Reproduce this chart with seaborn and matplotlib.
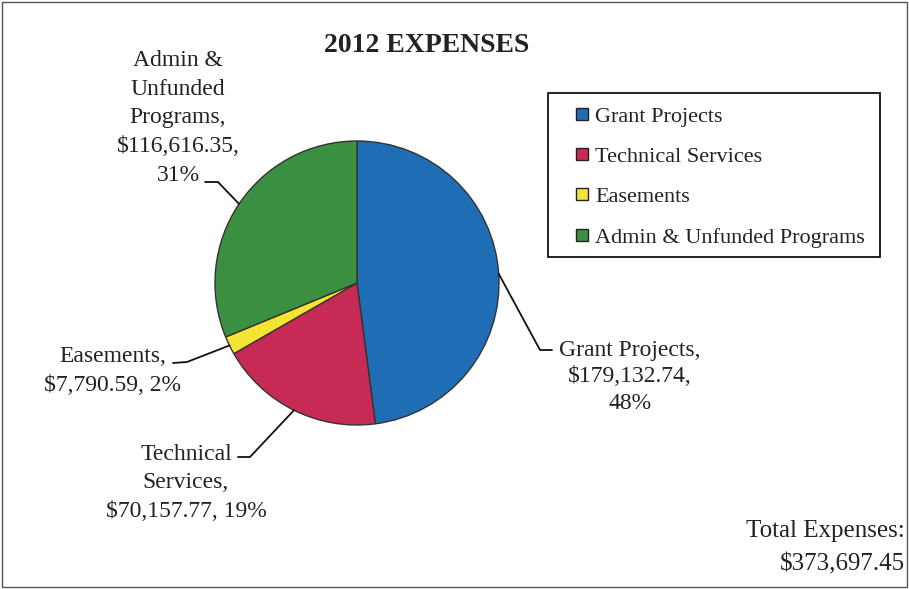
import numpy as np
import pandas as pd
import seaborn as sns
import matplotlib.pyplot as plt
from matplotlib.lines import Line2D
from matplotlib.patches import Rectangle

# Chart data
categories = ['Grant Projects', 'Technical Services', 'Easements', 'Admin & Unfunded Programs']
expenses = [179132.74, 70157.77, 7790.59, 116616.35]
colors = ['#1f6db5', '#c72a55', '#f4e433', '#3b8f40']
total_label = '$373,697.45'

df = pd.DataFrame({'category': categories, 'amount': expenses})
df['pct'] = df['amount'] / df['amount'].sum() * 100

sns.set_theme(style='white')
plt.rcParams['font.family'] = ['Liberation Serif', 'DejaVu Serif']

W, H = 909, 589
fig = plt.figure(figsize=(W / 100, H / 100), dpi=100)


def fx(px):
    return px / W


def fy(py):
    # py measured from the top of the image
    return 1 - py / H


# pie centre (357, 283), radius ~142 px
cx, cy, r = 357, 283, 142
ax = fig.add_axes([fx(cx - r), fy(cy + r), 2 * r / W, 2 * r / H])
pal = sns.color_palette(colors)
wedges, _ = ax.pie(df['amount'], colors=pal, startangle=90,
                   counterclock=False, radius=1,
                   wedgeprops=dict(edgecolor='#333333', linewidth=1.0))
ax.set_xlim(-1, 1)
ax.set_ylim(-1, 1)
ax.set_aspect('auto')
ax.axis('off')

fig.text(fx(427), fy(45), '2012 EXPENSES', ha='center', va='center',
         fontsize=20, fontweight='bold', color='#222222')


def fmt_money(v):
    return '${:,.2f}'.format(v)


lbl = {row.category: (fmt_money(row.amount), '{:.0f}%'.format(row.pct)) for row in df.itertuples()}

# data labels: text block, centre position (px), line spacing, elbow of leader line (px)
label_specs = [
    ('Grant Projects', 'Grant Projects,\n{},\n{}'.format(*lbl['Grant Projects']),
     (630, 377), 1.36, [(552, 350), (540, 350)]),
    ('Technical Services', 'Technical\nServices,\n{}, {}'.format(*lbl['Technical Services']),
     (186, 483), 1.44, [(238, 457), (250, 457)]),
    ('Easements', 'Easements,\n{}, {}'.format(*lbl['Easements']),
     (113, 371), 1.44, [(173, 363), (187, 362)]),
    ('Admin & Unfunded Programs', 'Admin &\nUnfunded\nPrograms,\n{},\n{}'.format(*lbl['Admin & Unfunded Programs']),
     (178, 118), 1.47, [(205, 182), (218, 182)]),
]

to_fig = ax.transData + fig.transFigure.inverted()
for i, (cat, text, (tx, ty), ls, elbow) in enumerate(label_specs):
    fig.text(fx(tx), fy(ty), text, ha='center', va='center', multialignment='center',
             fontsize=17, linespacing=ls, color='#222222')
    w = wedges[i]
    mid = np.deg2rad((w.theta1 + w.theta2) / 2)
    px, py = to_fig.transform((np.cos(mid), np.sin(mid)))
    xs = [fx(elbow[0][0]), fx(elbow[1][0]), px]
    ys = [fy(elbow[0][1]), fy(elbow[1][1]), py]
    fig.add_artist(Line2D(xs, ys, color='#111111', linewidth=1.3))

# legend box drawn separately so padding can match the original
fig.add_artist(Rectangle((fx(548), fy(257)), fx(880) - fx(548), fy(93) - fy(257),
                         transform=fig.transFigure, fill=False,
                         edgecolor='#111111', linewidth=1.3))
handles = [Line2D([], [], linestyle='none', marker='s', markersize=8.6,
                  markerfacecolor=c, markeredgecolor='#222222', markeredgewidth=1.0)
           for c in pal]
leg = fig.legend(handles, categories, loc='upper left',
                 bbox_to_anchor=(fx(573), fy(106)),
                 fontsize=16, frameon=False,
                 handlelength=0.8, handletextpad=0.2,
                 labelspacing=0.89, borderpad=0, borderaxespad=0)
for t in leg.get_texts():
    t.set_color('#222222')

fig.text(fx(905), fy(531), 'Total Expenses:', ha='right', va='center', fontsize=18, color='#222222')
fig.text(fx(905), fy(564), total_label, ha='right', va='center', fontsize=18, color='#222222')

fig.add_artist(Rectangle((fx(2), fy(587)), fx(905), 1 - 4 / H, transform=fig.transFigure,
                         fill=False, edgecolor='#555555', linewidth=1.0))

fig.savefig('out.png', dpi=100)
